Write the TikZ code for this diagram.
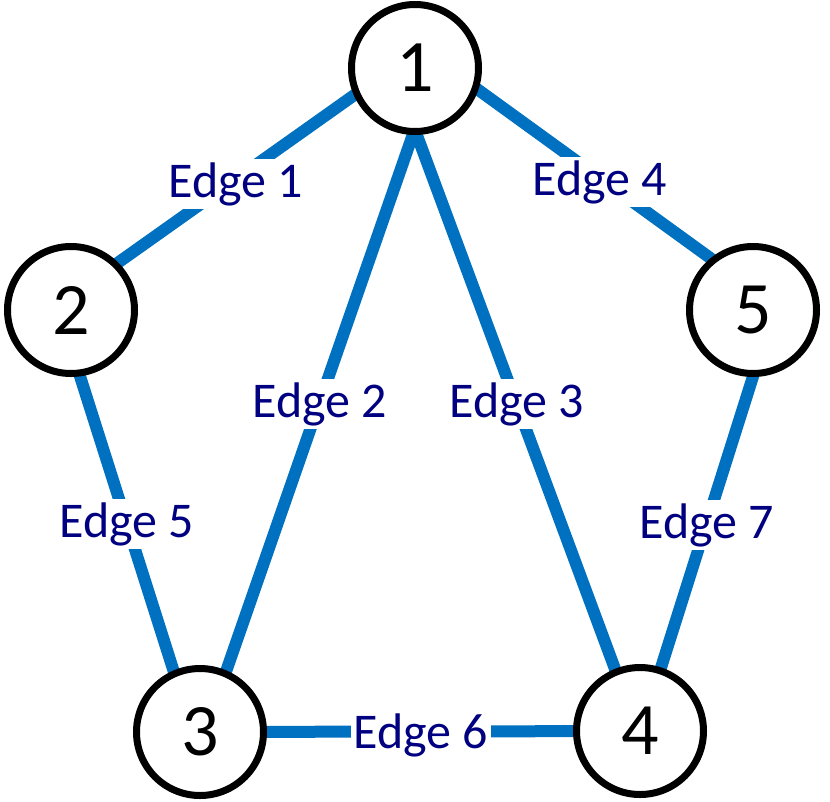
\documentclass[tikz,border=0pt]{standalone}
\usepackage{fontspec}
\setmainfont{Carlito}
\usetikzlibrary{backgrounds}
\definecolor{edgeblue}{HTML}{0070C0}
\definecolor{labelnavy}{HTML}{000080}
\begin{document}
\begin{tikzpicture}[x=1pt,y=-1pt,
  vertex/.style={circle,draw=black,line width=7pt,fill=white,minimum size=127pt,inner sep=0pt,font=\fontsize{74}{74}\selectfont},
  link/.style={draw=edgeblue,line width=12pt},
  elabel/.style={fill=white,text=labelnavy,inner sep=3pt,anchor=base,font=\fontsize{50}{50}\selectfont}]
\useasboundingbox (0,0) rectangle (830,801);
\node[vertex] (n1) at (415,68) {1};
\node[vertex] (n2) at (71,310) {2};
\node[vertex] (n3) at (200,732) {3};
\node[vertex] (n4) at (640,731) {4};
\node[vertex] (n5) at (753,310) {5};
\begin{scope}[on background layer]
  \draw[link] ([shift={(0,-16)}]n1.center) -- ([shift={(0,-14)}]n2.center);
  \draw[link] ([shift={(21,0)}]n1.center) -- ([shift={(5,0)}]n3.center);
  \draw[link] ([shift={(-23,0)}]n1.center) -- ([shift={(-2,0)}]n4.center);
  \draw[link] ([shift={(0,-24)}]n1.center) -- ([shift={(0,-21)}]n5.center);
  \draw[link] ([shift={(-12,0)}]n2.center) -- ([shift={(-7,0)}]n3.center);
  \draw[link] (n3.center) -- (n4.center);
  \draw[link] ([shift={(21,0)}]n5.center) -- ([shift={(1,0)}]n4.center);
\end{scope}
\node[elabel] (l1) at (236,197) {Edge 1};
\node[elabel] (l2) at (320,417) {Edge 2};
\node[elabel] (l3) at (517,417) {Edge 3};
\node[elabel] (l4) at (600,195) {Edge 4};
\node[elabel] (l5) at (127,537) {Edge 5};
\node[elabel] (l6) at (421,748) {Edge 6};
\node[elabel] (l7) at (707,538) {Edge 7};
\end{tikzpicture}
\end{document}
